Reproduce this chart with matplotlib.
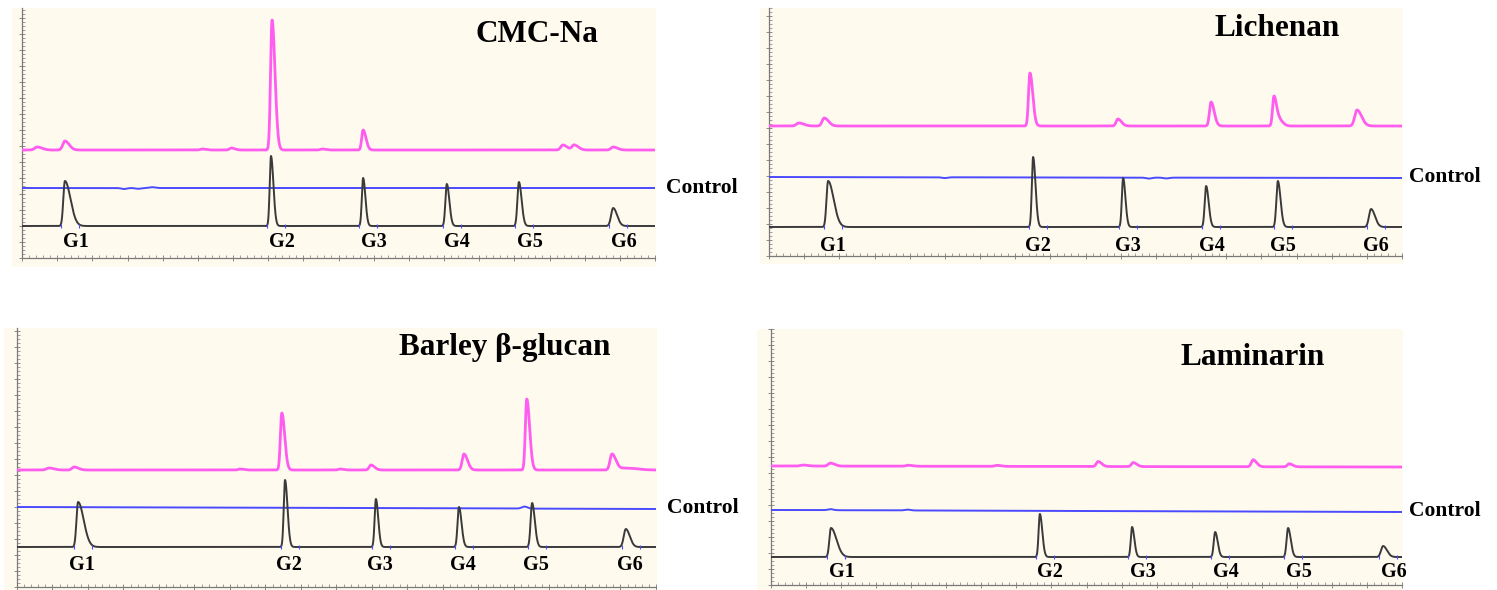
import numpy as np
import matplotlib
matplotlib.use("Agg")
import matplotlib.pyplot as plt
from matplotlib.patches import Rectangle
from matplotlib.ticker import MultipleLocator
from matplotlib.transforms import blended_transform_factory

# ---------------- data (retention time in min, signal in a.u.) ----------------
time_span = 18.0
peak_names = ["G1", "G2", "G3", "G4", "G5", "G6"]
panel_titles = ["CMC-Na", "Lichenan", "Barley \u03b2-glucan", "Laminarin"]

standard_width = [0.045, 0.036, 0.036, 0.040, 0.042, 0.058]
standard_tail = [3.5, 1.9, 1.8, 1.8, 1.8, 1.9]

# CMC-Na
cmc_std_rt = [1.22, 7.08, 9.70, 12.08, 14.13, 16.81]
cmc_std_h = [45, 70, 48, 42, 44, 18]
cmc_smp_rt = [0.43, 1.22, 5.12, 5.95, 7.11, 8.53, 9.70, 15.38, 15.70, 16.81]
cmc_smp_h = [3, 9, 1, 2, 130, 1, 20, 5, 5, 3]
cmc_smp_w = [0.07, 0.06, 0.05, 0.05, 0.042, 0.05, 0.04, 0.06, 0.06, 0.06]
cmc_ctl_rt = [2.9, 3.3, 3.7]
cmc_ctl_h = [-1.0, -0.8, 0.8]
cmc_levels = [32, 70, 70, 108, 108]  # standard, control start/end, sample start/end

# Lichenan
lic_std_rt = [1.68, 7.51, 10.07, 12.43, 14.47, 17.12]
lic_std_h = [46, 70, 49, 41, 46, 18]
lic_smp_rt = [0.85, 1.57, 7.42, 9.92, 12.57, 14.36, 14.53, 16.72]
lic_smp_h = [3, 8, 53, 7, 24, 30, 5, 16]
lic_smp_w = [0.07, 0.06, 0.04, 0.05, 0.045, 0.04, 0.05, 0.065]
lic_ctl_rt = [5.0, 10.8, 11.3]
lic_ctl_h = [-0.8, -1.0, -0.8]
lic_levels = [29, 79, 78, 130, 130]

# Barley beta-glucan
bar_std_rt = [1.72, 7.55, 10.11, 12.45, 14.51, 17.15]
bar_std_h = [45, 67, 48, 40, 44, 18]
bar_smp_rt = [0.90, 1.61, 6.28, 7.46, 9.10, 9.97, 12.59, 14.36, 16.76, 17.15]
bar_smp_h = [2, 3, 1, 57, 1, 5, 16, 71, 16, 2]
bar_smp_w = [0.07, 0.06, 0.05, 0.04, 0.05, 0.05, 0.05, 0.04, 0.055, 0.15]
bar_ctl_rt = [14.3]
bar_ctl_h = [2]
bar_levels = [40, 80, 78, 117, 117]

# Laminarin
lam_std_rt = [1.71, 7.67, 10.30, 12.67, 14.75, 17.46]
lam_std_h = [29, 43, 30, 25, 29, 11]
lam_smp_rt = [0.91, 1.69, 3.91, 6.44, 9.33, 10.33, 13.75, 14.78]
lam_smp_h = [1, 3, 1, 1, 5, 4, 7, 3]
lam_smp_w = [0.07, 0.06, 0.06, 0.06, 0.05, 0.05, 0.05, 0.05]
lam_ctl_rt = [1.7, 3.9]
lam_ctl_h = [1, 0.8]
lam_levels = [28, 75, 73, 119, 118]

# ---------------- layout ----------------
W, H = 1497, 590
fig = plt.figure(figsize=(W / 100, H / 100), dpi=100)
fig.patch.set_facecolor("white")

BEIGE = "#fffaee"
BLACK = "#3a3a3a"
BLUE = "#4a4aff"
PINK = "#ff5cf0"
FONT = "Liberation Serif"


def px_rect(x0, y0, x1, y1):
    return [x0 / W, (H - y1) / H, (x1 - x0) / W, (y1 - y0) / H]


panels = [
    dict(ax=(22, 8, 655, 258), bg=(12, 8, 656, 267), ytop=250, title_pos=(0.814, 0.896),
         std=(cmc_std_rt, cmc_std_h), smp=(cmc_smp_rt, cmc_smp_h, cmc_smp_w),
         ctl=(cmc_ctl_rt, cmc_ctl_h), lv=cmc_levels, loff=0.30, ly=16, cx=1.018),
    dict(ax=(769, 8, 1402, 256), bg=(760, 8, 1403, 264), ytop=248, title_pos=(0.8025, 0.919),
         std=(lic_std_rt, lic_std_h), smp=(lic_smp_rt, lic_smp_h, lic_smp_w),
         ctl=(lic_ctl_rt, lic_ctl_h), lv=lic_levels, loff=0.15, ly=10, cx=1.011),
    dict(ax=(17, 328, 656, 587), bg=(4, 328, 657, 590), ytop=259, title_pos=(0.764, 0.923),
         std=(bar_std_rt, bar_std_h), smp=(bar_smp_rt, bar_smp_h, bar_smp_w),
         ctl=(bar_ctl_rt, bar_ctl_h), lv=bar_levels, loff=0.12, ly=22, cx=1.017),
    dict(ax=(771, 329, 1402, 585), bg=(757, 329, 1403, 590), ytop=256, title_pos=(0.764, 0.887),
         std=(lam_std_rt, lam_std_h), smp=(lam_smp_rt, lam_smp_h, lam_smp_w),
         ctl=(lam_ctl_rt, lam_ctl_h), lv=lam_levels, loff=0.30, ly=13, cx=1.011),
]

t = np.linspace(0, time_span, 5000)


def trace(base_start, base_end, rts, hs, ws, tails):
    y = base_start + (base_end - base_start) * t / time_span
    for rt, h, w, k in zip(rts, hs, ws, tails):
        s = np.where(t < rt, w, w * k)
        y = y + h * np.exp(-0.5 * ((t - rt) / s) ** 2)
    return y


for p, title in zip(panels, panel_titles):
    # beige panel background (drawn beneath the axes)
    r = px_rect(*p["bg"])
    fig.patches.append(Rectangle((r[0], r[1]), r[2], r[3], transform=fig.transFigure,
                                 facecolor=BEIGE, edgecolor="none", zorder=-5))
    ax = fig.add_axes(px_rect(*p["ax"]))
    ax.set_zorder(1)
    ax.set_facecolor(BEIGE)
    ax.set_xlim(0, time_span)
    ax.set_ylim(0, p["ytop"])

    lv = p["lv"]
    std_rt, std_h = p["std"]
    smp_rt, smp_h, smp_w = p["smp"]
    ctl_rt, ctl_h = p["ctl"]

    y_std = trace(lv[0], lv[0], std_rt, std_h, standard_width, standard_tail)
    y_ctl = trace(lv[1], lv[2], ctl_rt, ctl_h, [0.08] * len(ctl_rt), [1.0] * len(ctl_rt))
    y_smp = trace(lv[3], lv[4], smp_rt, smp_h, smp_w, [2.0] * len(smp_rt))

    ax.plot(t, y_smp, color=PINK, lw=2.0, zorder=3)
    ax.plot(t, y_ctl, color=BLUE, lw=1.4, zorder=3)
    ax.plot(t, y_std, color=BLACK, lw=1.4, zorder=4)

    # integration markers on the standard trace
    marks = [rt - 0.12 for rt in std_rt] + [rt + 0.40 for rt in std_rt]
    ax.scatter(marks, [lv[0]] * len(marks), marker="|", s=6, color=BLUE, lw=0.8, zorder=5)

    # peak labels
    for rt, name in zip(std_rt, peak_names):
        ax.text(rt + p["loff"], p["ly"], name, ha="center", va="center",
                fontsize=14.5, fontweight="bold", family=FONT, color="black", zorder=6)

    ax.text(p["title_pos"][0], p["title_pos"][1], title, transform=ax.transAxes,
            ha="center", va="center", fontsize=22.5, fontweight="bold", family=FONT)

    tr = blended_transform_factory(ax.transAxes, ax.transData)
    ax.text(p["cx"], (lv[1] + lv[2]) / 2, "Control", transform=tr, ha="left", va="center",
            fontsize=15.5, fontweight="bold", family=FONT, clip_on=False)

    for side in ("top", "right"):
        ax.spines[side].set_visible(False)
    for side in ("left", "bottom"):
        ax.spines[side].set_color("#7a7a7a")
        ax.spines[side].set_linewidth(0.9)
    ax.xaxis.set_major_locator(MultipleLocator(1))
    ax.xaxis.set_minor_locator(MultipleLocator(0.2))
    ax.yaxis.set_major_locator(MultipleLocator(16))
    ax.yaxis.set_minor_locator(MultipleLocator(4))
    ax.tick_params(which="major", direction="inout", length=4, width=0.6, color="#7a7a7a",
                   labelleft=False, labelbottom=False)
    ax.tick_params(which="minor", direction="in", length=2, width=0.5, color="#7a7a7a")

fig.savefig("out.png", dpi=100, facecolor="white")
